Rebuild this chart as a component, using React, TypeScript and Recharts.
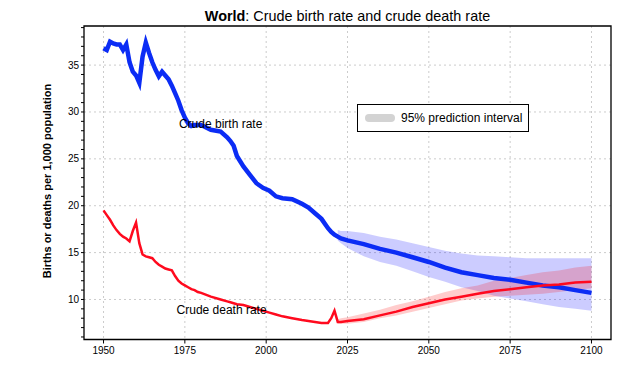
import React from 'react';
import {
  ComposedChart,
  Line,
  Area,
  XAxis,
  YAxis,
  CartesianGrid,
  ReferenceArea,
  ReferenceDot,
} from 'recharts';

// years of the estimates and the projection (1950-2100)
const years = [
  1950, 1951, 1952, 1953, 1954, 1955, 1956, 1957, 1958, 1959,
  1960, 1961, 1962, 1963, 1964, 1965, 1966, 1967, 1968, 1969,
  1970, 1971, 1972, 1973, 1974, 1975, 1976, 1977, 1978, 1979, 1980,
  1983, 1986, 1988, 1989, 1990, 1991, 1993, 1995, 1997, 1999,
  2001, 2003, 2005, 2008, 2011, 2013, 2015, 2017, 2019, 2020, 2021,
  2022, 2023, 2025, 2030, 2035, 2040, 2045, 2050, 2055, 2060,
  2065, 2070, 2075, 2080, 2085, 2090, 2095, 2100,
];

const birthRate = [
  36.8, 36.6, 37.5, 37.3, 37.2, 37.2, 36.6, 37.2, 35.3, 34.3,
  33.9, 33.1, 35.9, 37.4, 36.3, 35.3, 34.5, 33.8, 34.3, 33.9,
  33.5, 32.8, 32.0, 31.2, 30.2, 29.4, 28.8, 28.5, 28.6, 28.6, 28.6,
  28.1, 27.9, 27.3, 26.9, 26.4, 25.3, 24.2, 23.3, 22.4, 21.9,
  21.6, 21.0, 20.8, 20.7, 20.2, 19.8, 19.2, 18.6, 17.6, 17.2, 16.9,
  16.7, 16.5, 16.3, 15.9, 15.4, 15.0, 14.5, 14.0, 13.4, 12.9,
  12.6, 12.3, 12.1, 11.8, 11.5, 11.3, 11.0, 10.7,
];

const deathRate = [
  19.5, 19.0, 18.5, 17.9, 17.4, 17.0, 16.7, 16.5, 16.2, 17.3,
  18.2, 16.0, 14.8, 14.6, 14.5, 14.4, 14.0, 13.7, 13.5, 13.3,
  13.2, 13.1, 12.5, 12.0, 11.7, 11.5, 11.3, 11.1, 11.0, 10.8, 10.7,
  10.3, 10.0, 9.8, 9.7, 9.6, 9.5, 9.4, 9.2, 9.0, 8.8,
  8.6, 8.4, 8.2, 8.0, 7.8, 7.7, 7.6, 7.5, 7.5, 8.0, 8.8,
  7.6, 7.6, 7.7, 7.9, 8.3, 8.7, 9.2, 9.6, 10.0, 10.3,
  10.6, 10.9, 11.1, 11.3, 11.5, 11.6, 11.8, 11.9,
];

// 95% prediction intervals, from 2022 on
const projectionStart = 2022;
const birthLower = [16.3, 16.0, 15.5, 14.6, 14.0, 13.6, 13.0, 12.4, 11.9, 11.3, 10.9, 10.4, 10.1, 9.8, 9.5, 9.2, 9.0, 8.8];
const birthUpper = [17.4, 17.3, 17.3, 17.1, 16.7, 16.4, 16.0, 15.6, 15.2, 14.9, 14.7, 14.6, 14.5, 14.4, 14.4, 14.4, 14.4, 14.4];
const deathLower = [7.4, 7.4, 7.4, 7.6, 8.0, 8.3, 8.7, 9.1, 9.5, 9.9, 10.1, 10.3, 10.4, 10.5, 10.6, 10.8, 11.0, 11.2];
const deathUpper = [7.9, 8.0, 8.1, 8.5, 8.9, 9.4, 9.8, 10.3, 10.8, 11.2, 11.5, 12.0, 12.3, 12.6, 12.9, 13.1, 13.4, 13.6];

const xTicks = [1950, 1975, 2000, 2025, 2050, 2075, 2100];
const yLabelTicks = [10, 15, 20, 25, 30, 35];
const yMinorTicks = Array.from({ length: 34 }, (_, i) => i + 6);

const firstProj = years.indexOf(projectionStart);
const data = years.map((year, i) => {
  const j = i - firstProj;
  return {
    year,
    birth: birthRate[i],
    death: deathRate[i],
    birthBand: j >= 0 ? [birthLower[j], birthUpper[j]] : null,
    deathBand: j >= 0 ? [deathLower[j], deathUpper[j]] : null,
  };
});

const FONT = '"Liberation Sans", Arial, sans-serif';

const XTick = (props: any) => {
  const { x, y, payload } = props;
  return (
    <text x={x} y={y + 8} textAnchor="middle" fontSize={10} fontFamily={FONT} fill="#000">
      {payload.value}
    </text>
  );
};

const YTick = (props: any) => {
  const { x, y, payload } = props;
  if (payload.value % 5 !== 0) return <g />;
  return (
    <text x={x} y={y} dy="0.35em" textAnchor="end" fontSize={10} fontFamily={FONT} fill="#000">
      {payload.value}
    </text>
  );
};

const App: React.FC = () => {
  return (
    <div style={{ position: 'absolute', left: 0, top: 0, width: 641, height: 365, background: '#fff', fontFamily: FONT }}>
      <div style={{ position: 'absolute', left: 84, width: 527, top: 7.5, textAlign: 'center', fontSize: 14.4, lineHeight: '17px', color: '#000' }}>
        <b>World</b>: Crude birth rate and crude death rate
      </div>
      <div
        style={{
          position: 'absolute',
          left: 47,
          top: 181,
          transform: 'translate(-50%, -50%) rotate(-90deg)',
          whiteSpace: 'nowrap',
          fontSize: 11,
          fontWeight: 'bold',
          color: '#000',
        }}
      >
        Births or deaths per 1,000 population
      </div>

      <ComposedChart width={641} height={365} data={data} margin={{ top: 26, right: 30, bottom: 0, left: 0 }}>
        <CartesianGrid
          stroke="#cccccc"
          strokeDasharray="2 3"
          horizontalValues={yLabelTicks}
          verticalValues={xTicks}
        />
        <XAxis
          dataKey="year"
          type="number"
          domain={[1944, 2106]}
          ticks={xTicks}
          interval={0}
          height={25.5}
          axisLine={false}
          tickSize={4}
          tickLine={{ stroke: '#000' }}
          tick={<XTick />}
        />
        <YAxis
          type="number"
          domain={[5.73, 39.17]}
          ticks={yMinorTicks}
          interval={0}
          width={84}
          axisLine={false}
          tickSize={3}
          tickLine={{ stroke: '#000' }}
          tick={<YTick />}
        />
        <Area type="linear" dataKey="birthBand" stroke="none" fill="#0000ff" fillOpacity={0.2} isAnimationActive={false} />
        <Area type="linear" dataKey="deathBand" stroke="none" fill="#ff0000" fillOpacity={0.2} isAnimationActive={false} />
        <Line type="linear" dataKey="birth" stroke="#0b2cf5" strokeWidth={4.5} dot={false} isAnimationActive={false} />
        <Line type="linear" dataKey="death" stroke="#ff0a1e" strokeWidth={2.5} dot={false} isAnimationActive={false} />
        <ReferenceDot
          x={1986}
          y={28.7}
          r={0}
          fill="none"
          stroke="none"
          label={{ value: 'Crude birth rate', position: 'center', fill: '#000', fontSize: 12, fontFamily: FONT }}
        />
        <ReferenceDot
          x={1986.3}
          y={8.95}
          r={0}
          fill="none"
          stroke="none"
          label={{ value: 'Crude death rate', position: 'center', fill: '#000', fontSize: 12, fontFamily: FONT }}
        />
        <ReferenceArea x1={1944} x2={2106} y1={5.73} y2={39.17} fill="none" stroke="#000" strokeWidth={1.3} ifOverflow="visible" />
      </ComposedChart>

      <div
        style={{
          position: 'absolute',
          left: 357,
          top: 104,
          width: 172,
          height: 28,
          boxSizing: 'border-box',
          border: '1px solid #000',
          background: '#fff',
          display: 'flex',
          alignItems: 'center',
          fontSize: 12,
          color: '#000',
        }}
      >
        <span style={{ display: 'inline-block', width: 30, height: 8, borderRadius: 4, background: '#d3d3d3', marginLeft: 7, marginRight: 6 }} />
        95% prediction interval
      </div>
    </div>
  );
};

export default App;
